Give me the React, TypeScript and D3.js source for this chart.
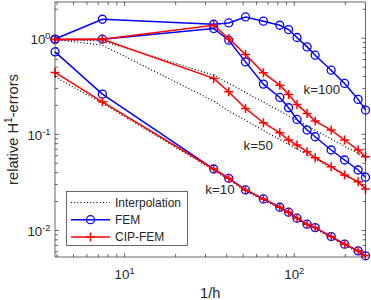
import React from "react";
import * as d3 from "d3";

const X = [3.89, 7.4, 33.5, 41.1, 51.6, 65.8, 82.2, 92.6, 103.8, 119, 132.8, 165, 198, 238, 263];

const fem10 = [0.721, 0.262, 0.0436, 0.0349, 0.0264, 0.0213, 0.01745, 0.01549, 0.01342, 0.01162, 0.01072, 0.00865, 0.00721, 0.00614, 0.00545];
const cip10 = [0.441, 0.218, 0.0436, 0.0349, 0.0264, 0.0213, 0.01745, 0.01549, 0.01342, 0.01162, 0.01072, 0.00865, 0.00721, 0.00614, 0.00545];
const interp10 = [0.396, 0.211, 0.0423, 0.0339, 0.0257, 0.0207, 0.017, 0.0151, 0.0131, 0.0113, 0.0104, 0.0084, 0.007, 0.006, 0.0053];
const fem50 = [0.97, 0.976, 1.261, 0.953, 0.567, 0.333, 0.242, 0.189, 0.143, 0.1108, 0.0944, 0.0687, 0.0541, 0.0426, 0.0358];
const cip50 = [0.97, 0.976, 0.382, 0.277, 0.186, 0.132, 0.1039, 0.0873, 0.0774, 0.066, 0.0571, 0.0461, 0.0378, 0.0322, 0.027];
const interp50 = [0.97, 0.846, 0.222, 0.175, 0.14, 0.1098, 0.0885, 0.0785, 0.0705, 0.0618, 0.0553, 0.0451, 0.0378, 0.0318, 0.0289];
const fem100 = [0.98, 1.575, 1.397, 1.442, 1.664, 1.502, 1.364, 1.231, 1.017, 0.812, 0.666, 0.465, 0.3385, 0.231, 0.1788];
const cip100 = [0.97, 0.976, 1.365, 0.993, 0.677, 0.436, 0.325, 0.26, 0.205, 0.1652, 0.1374, 0.1108, 0.0873, 0.0687, 0.0585];
const interp100 = [0.97, 0.938, 0.413, 0.339, 0.273, 0.2164, 0.175, 0.156, 0.14, 0.1229, 0.1106, 0.0898, 0.0754, 0.0633, 0.0576];

const xTickExps = [1, 2];
const yTickExps = [0, -1, -2];
const legendLabels = ["Interpolation", "FEM", "CIP-FEM"];
const curveLabels = [
  { text: "k=100", x: 113.4, y: 0.26 },
  { text: "k=50", x: 50.3, y: 0.0689 },
  { text: "k=10", x: 29.9, y: 0.0239 },
];

const W = 371, H = 300;
const L = 55, R = 365.5, T = 2, B = 257;
const AX = "#262626";
const FONT = "'Liberation Sans', Arial, Helvetica, sans-serif";
const BLUE = "#0000ff";
const RED = "#ff0000";

export default function App() {
  const x = d3.scaleLog().domain([X[0], X[X.length - 1]]).range([L, R]);
  const y = d3.scaleLog().domain([0.0053, 2.38]).range([B, T]);

  const line = (vals: number[]) =>
    d3.line<number>().x((_, i) => x(X[i])).y((v) => y(v))(vals) || "";

  const xMinor: number[] = [];
  for (let d = 1; d <= 100; d *= 10) for (let m = 1; m <= 9; m++) {
    const v = m * d;
    if (v >= X[0] && v <= X[X.length - 1]) xMinor.push(v);
  }
  const yMinor: number[] = [];
  for (let d = 0.001; d <= 1; d *= 10) for (let m = 1; m <= 9; m++) {
    const v = m * d;
    if (v >= 0.0053 && v <= 2.38) yMinor.push(v);
  }
  const isMajor = (v: number) => Math.abs(Math.log10(v) - Math.round(Math.log10(v))) < 1e-6;

  const circles = (vals: number[], color: string) =>
    vals.map((v, i) => (
      <circle key={i} cx={x(X[i])} cy={y(v)} r={4} fill="none" stroke={color} strokeWidth={1.3} />
    ));
  const pluses = (vals: number[], color: string) =>
    vals.map((v, i) => {
      const cx = x(X[i]), cy = y(v), s = 4.5;
      return (
        <path key={i} d={`M${cx - s},${cy}H${cx + s}M${cx},${cy - s}V${cy + s}`} stroke={color} strokeWidth={1.5} />
      );
    });

  const dotted = { fill: "none", stroke: "#000", strokeWidth: 1.2, strokeDasharray: "1 2.2" };

  return (
    <svg width={W} height={H} style={{ position: "absolute", left: 0, top: 0 }} fontFamily={FONT}>
      <rect x={0} y={0} width={W} height={H} fill="#fff" />
      {/* ticks */}
      <g stroke={AX} strokeWidth={0.7}>
        {xMinor.map((v, i) => {
          const len = isMajor(v) ? 4 : 3;
          const px = x(v);
          return (
            <g key={i}>
              <line x1={px} x2={px} y1={B} y2={B - len} />
              <line x1={px} x2={px} y1={T} y2={T + len} />
            </g>
          );
        })}
        {yMinor.map((v, i) => {
          const len = isMajor(v) ? 4 : 3;
          const py = y(v);
          return (
            <g key={i}>
              <line x1={L} x2={L + len} y1={py} y2={py} />
              <line x1={R} x2={R - len} y1={py} y2={py} />
            </g>
          );
        })}
      </g>
      {/* interpolation */}
      <path d={line(interp10)} {...dotted} />
      <path d={line(interp50)} {...dotted} />
      <path d={line(interp100)} {...dotted} />
      {/* FEM */}
      {[fem10, fem50, fem100].map((s, k) => (
        <g key={"f" + k}>
          <path d={line(s)} fill="none" stroke={BLUE} strokeWidth={1.5} />
          {circles(s, BLUE)}
        </g>
      ))}
      {/* CIP-FEM */}
      {[cip10, cip50, cip100].map((s, k) => (
        <g key={"c" + k}>
          <path d={line(s)} fill="none" stroke={RED} strokeWidth={1.5} />
          {pluses(s, RED)}
        </g>
      ))}
      {/* frame */}
      <rect x={L} y={T} width={R - L} height={B - T} fill="none" stroke={AX} strokeWidth={0.7} />
      {/* tick labels */}
      <g fill={AX} fontSize={13.33}>
        {xTickExps.map((e) => (
          <text key={e} x={x(Math.pow(10, e))} y={279} textAnchor="middle">
            10<tspan fontSize={9.3} dy={-5.5}>{e}</tspan>
          </text>
        ))}
        {yTickExps.map((e) => (
          <text key={e} x={50.5} y={y(Math.pow(10, e)) + 6} textAnchor="end">
            10<tspan fontSize={9.3} dy={-5.5}>{e}</tspan>
          </text>
        ))}
        <text x={(L + R) / 2} y={297.5} textAnchor="middle" fontSize={14.67}>1/h</text>
        <text transform={`translate(17.5,${(T + B) / 2}) rotate(-90)`} textAnchor="middle" fontSize={14.67}>
          relative H<tspan fontSize={10.3} dy={-6}>1</tspan><tspan dy={6}>-errors</tspan>
        </text>
        {curveLabels.map((c) => (
          <text key={c.text} x={x(c.x)} y={y(c.y)}>{c.text}</text>
        ))}
      </g>
      {/* legend */}
      <g>
        <rect x={66.5} y={191.5} width={121} height={54} fill="#fff" stroke={AX} strokeWidth={0.7} />
        {legendLabels.map((lab, i) => {
          const cy = 202.5 + i * 17.2;
          return (
            <g key={lab}>
              {i === 0 && <line x1={71} x2={110} y1={cy} y2={cy} {...dotted} />}
              {i === 1 && (
                <g>
                  <line x1={71} x2={110} y1={cy} y2={cy} stroke={BLUE} strokeWidth={1.5} />
                  <circle cx={90.5} cy={cy} r={4} fill="none" stroke={BLUE} strokeWidth={1.3} />
                </g>
              )}
              {i === 2 && (
                <g>
                  <line x1={71} x2={110} y1={cy} y2={cy} stroke={RED} strokeWidth={1.5} />
                  <path d={`M${86},${cy}H${95}M${90.5},${cy - 4.5}V${cy + 4.5}`} stroke={RED} strokeWidth={1.5} />
                </g>
              )}
              <text x={115} y={cy + 4.2} fontSize={12} fill={AX}>{lab}</text>
            </g>
          );
        })}
      </g>
    </svg>
  );
}
